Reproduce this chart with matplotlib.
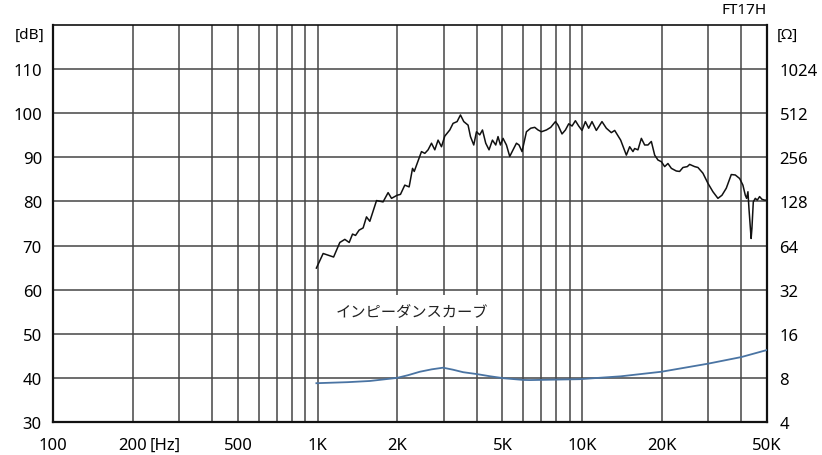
import matplotlib
matplotlib.use("Agg")
import matplotlib.pyplot as plt
from matplotlib.ticker import FixedLocator, NullFormatter, NullLocator, FixedFormatter

# ---------------- data ----------------
spl_freq = [990, 1050, 1150, 1214, 1268, 1317, 1356, 1392, 1436, 1487, 1531, 1576,
            1671, 1769, 1848, 1904, 1998, 2058, 2137, 2219, 2232, 2286, 2320,
            2471, 2544, 2617, 2696, 2775, 2855, 2941, 3026, 3161, 3253, 3369, 3469,
            3571, 3707, 3785, 3895, 3988, 4104, 4202, 4323, 4449, 4582, 4716, 4811,
            4913, 5025, 5176, 5327, 5483, 5647, 5776, 5929, 6160, 6395, 6622, 6815,
            7020, 7330, 7611, 7929, 8110, 8397, 8650, 8902, 9162, 9434, 9710, 9993,
            10290, 10590, 10900, 11320, 11890, 12350, 12900, 13280, 13990, 14700,
            15130, 15570, 15800, 16260, 16750, 17240, 17740, 18270, 18810, 19350,
            19940, 20520, 21110, 21750, 22710, 23370, 24060, 24990, 25500, 26630,
            27410, 28630, 29910, 31230, 32620, 33780, 35080, 36640, 37940, 39400,
            40540, 41400, 41870, 42360, 42730, 43550, 43850, 44380, 45150, 45950,
            46880, 47830, 48950, 50000]
spl_db = [64.9, 68.2, 67.4, 70.7, 71.4, 70.7, 72.6, 72.3, 73.5, 74.0, 76.5, 75.5,
          80.2, 79.9, 82.0, 80.7, 81.4, 81.6, 83.7, 83.3, 84.1, 87.5, 86.8,
          91.3, 90.9, 91.7, 93.2, 91.7, 93.9, 92.4, 94.8, 96.2, 97.7, 98.1, 99.6,
          98.1, 97.3, 94.7, 92.8, 95.8, 95.1, 96.2, 93.2, 91.7, 93.9, 92.8, 94.7,
          92.8, 94.3, 92.8, 90.2, 91.7, 93.2, 92.8, 91.3, 95.8, 96.6, 96.8, 96.2,
          95.8, 96.2, 96.8, 98.1, 97.3, 95.3, 96.2, 97.6, 97.1, 98.3, 97.1, 96.1,
          98.1, 96.6, 98.1, 96.1, 98.1, 96.6, 95.6, 96.1, 93.9, 90.5,
          92.4, 91.3, 92.0, 91.7, 94.3, 92.8, 92.8, 93.6, 90.5, 89.4,
          89.0, 87.9, 88.6, 87.5, 86.9, 86.8, 87.7, 87.9, 88.4, 87.9,
          87.7, 86.4, 84.1, 82.2, 80.7, 81.4, 83.0, 86.1, 86.0, 85.2,
          83.7, 81.4, 80.7, 82.2, 78.4, 71.6, 73.9, 79.9, 80.7, 80.3,
          81.1, 80.5, 80.3, 80.3]

imp_freq = [990, 1300, 1576, 1998, 2200, 2435, 2700, 2982, 3250, 3549, 3988,
            4500, 5070, 5980, 6340, 9790, 14000, 19940, 29910, 40000, 50000]
imp_ohm = [7.36, 7.48, 7.62, 8.0, 8.35, 8.81, 9.15, 9.39, 9.1, 8.75, 8.5,
           8.2, 7.95, 7.75, 7.73, 7.84, 8.2, 8.81, 10.0, 11.1, 12.4]

x_ticks = [100, 200, 500, 1000, 2000, 5000, 10000, 20000, 50000]
x_labels = ["100", "200", "500", "1K", "2K", "5K", "10K", "20K", "50K"]
db_ticks = [30, 40, 50, 60, 70, 80, 90, 100, 110]
ohm_ticks = [4, 8, 16, 32, 64, 128, 256, 512, 1024]

title = "FT17H"
curve_label = "インピーダンスカーブ"

# ---------------- figure ----------------
W, H = 822, 456
fig = plt.figure(figsize=(W / 100, H / 100), dpi=100)
ax = fig.add_axes([53 / W, 1 - 423 / H, (767 - 53) / W, (423 - 26) / H])

FONT = ["Noto Sans", "DejaVu Sans"]
JFONT = ["Noto Sans CJK JP", "DejaVu Sans"]
GRID = "#454545"

ax.set_xscale("log")
ax.set_xlim(100, 50000)
ax.set_ylim(30, 120)

minor = [m * 10 ** e for e in (2, 3, 4) for m in range(2, 10) if m * 10 ** e < 50000]
ax.xaxis.set_major_locator(FixedLocator(x_ticks))
ax.xaxis.set_major_formatter(FixedFormatter(x_labels))
ax.xaxis.set_minor_locator(FixedLocator(minor))
ax.xaxis.set_minor_formatter(NullFormatter())
ax.yaxis.set_major_locator(FixedLocator(db_ticks))
ax.yaxis.set_minor_locator(NullLocator())

ax.grid(True, which="both", axis="x", color=GRID, lw=1.1)
ax.grid(True, which="major", axis="y", color=GRID, lw=1.1)
ax.set_axisbelow(True)
ax.tick_params(which="both", length=0)
ax.tick_params(axis="x", pad=11, labelsize=12)
ax.tick_params(axis="y", pad=8, labelsize=12)
for lab in ax.get_xticklabels() + ax.get_yticklabels():
    lab.set_family(FONT)

for s in ax.spines.values():
    s.set_color("#111111")
    s.set_linewidth(1.6)
ax.spines["top"].set_linewidth(1.2)

ax.plot(spl_freq, spl_db, color="#111111", lw=1.1, zorder=3)

ax2 = ax.twinx()
ax2.set_yscale("log", base=2)
ax2.set_ylim(4, 2048)
ax2.yaxis.set_major_locator(FixedLocator(ohm_ticks))
ax2.yaxis.set_major_formatter(FixedFormatter([str(t) for t in ohm_ticks]))
ax2.yaxis.set_minor_locator(NullLocator())
ax2.tick_params(which="both", length=0, pad=9, labelsize=12)
for lab in ax2.get_yticklabels():
    lab.set_family(FONT)
for s in ax2.spines.values():
    s.set_visible(False)
ax2.plot(imp_freq, imp_ohm, color="#4a74a3", lw=1.3, zorder=3)

# texts
ax.text(2270, 55.3, curve_label, family=JFONT, fontsize=11, color="#222222",
        ha="center", va="center", zorder=4,
        bbox=dict(boxstyle="square,pad=0.45", fc="white", ec="none"))
ax.annotate("[Hz]", xy=(200, 0), xycoords=("data", "axes fraction"),
            xytext=(12, -11), textcoords="offset points", ha="left", va="top",
            fontsize=12, family=FONT)
ax.annotate("[dB]", xy=(0, 1), xycoords="axes fraction", xytext=(-6, -7),
            textcoords="offset points", ha="right", va="center", fontsize=11,
            family=FONT)
ax.annotate("[Ω]", xy=(1, 1), xycoords="axes fraction", xytext=(7, -7),
            textcoords="offset points", ha="left", va="center", fontsize=11,
            family=FONT)
ax.annotate(title, xy=(1, 1), xycoords="axes fraction", xytext=(0, 11),
            textcoords="offset points", ha="right", va="center", fontsize=11,
            family=FONT)

fig.savefig("out.png", dpi=100)
